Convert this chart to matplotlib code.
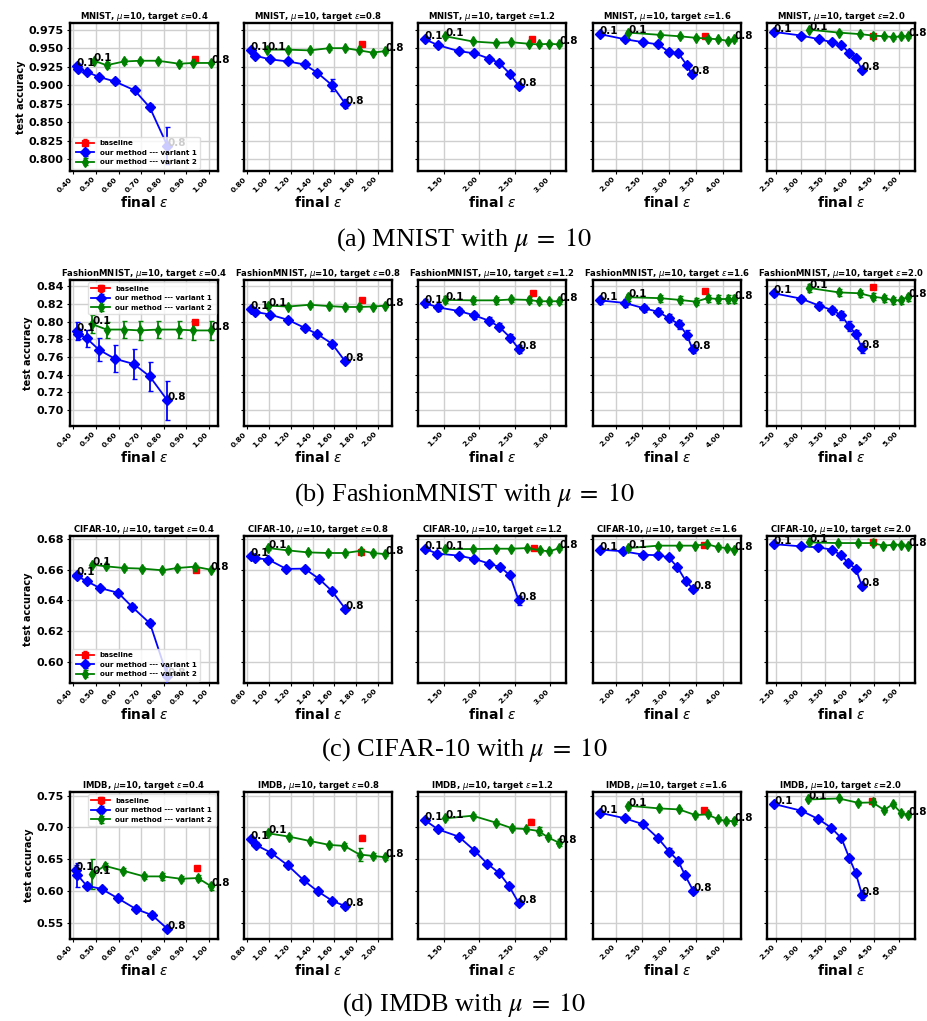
import matplotlib
matplotlib.use('Agg')
import matplotlib.pyplot as plt
from matplotlib.ticker import MultipleLocator, FormatStrFormatter

# ---------------- data ----------------
TARGETS = ['0.4', '0.8', '1.2', '1.6', '2.0']
DATASETS = ['MNIST', 'FashionMNIST', 'CIFAR-10', 'IMDB']
CAPTIONS = [r'(a) MNIST with $\mu\;=\;10$', r'(b) FashionMNIST with $\mu\;=\;10$',
            r'(c) CIFAR-10 with $\mu\;=\;10$', r'(d) IMDB with $\mu\;=\;10$']
SERIES_LABELS = ['baseline', 'our method --- variant 1', 'our method --- variant 2']

# MNIST
MNIST_V1_EPS = [[0.415, 0.422, 0.459, 0.514, 0.584, 0.671, 0.738, 0.816],
                [0.832, 0.869, 1.006, 1.174, 1.326, 1.442, 1.579, 1.700],
                [1.230, 1.421, 1.710, 1.933, 2.138, 2.283, 2.437, 2.558],
                [1.700, 2.175, 2.519, 2.800, 2.990, 3.175, 3.331, 3.425],
                [2.453, 3.017, 3.380, 3.640, 3.830, 3.985, 4.120, 4.247]]
MNIST_V1_ACC = [[0.926, 0.922, 0.918, 0.911, 0.905, 0.893, 0.870, 0.818],
                [0.947, 0.940, 0.935, 0.932, 0.928, 0.917, 0.900, 0.875],
                [0.962, 0.954, 0.946, 0.943, 0.936, 0.930, 0.915, 0.899],
                [0.969, 0.962, 0.958, 0.955, 0.945, 0.943, 0.927, 0.915],
                [0.972, 0.967, 0.962, 0.958, 0.954, 0.944, 0.937, 0.921]]
MNIST_V1_ERR = [[0.004, 0.004, 0.003, 0.002, 0.003, 0.003, 0.004, 0.025],
                [0.002, 0.002, 0.002, 0.002, 0.004, 0.002, 0.008, 0.006],
                [0.002, 0.002, 0.002, 0.002, 0.002, 0.002, 0.002, 0.003],
                [0.002, 0.002, 0.002, 0.002, 0.002, 0.002, 0.002, 0.002],
                [0.002, 0.002, 0.002, 0.002, 0.002, 0.002, 0.002, 0.002]]
MNIST_V2_EPS = [[0.490, 0.547, 0.624, 0.695, 0.774, 0.867, 0.931, 1.010],
                [0.985, 1.174, 1.372, 1.555, 1.700, 1.829, 1.951, 2.067],
                [1.523, 1.910, 2.236, 2.455, 2.698, 2.842, 2.990, 3.131],
                [2.238, 2.825, 3.200, 3.500, 3.719, 3.919, 4.094, 4.219],
                [3.172, 3.777, 4.200, 4.480, 4.700, 4.886, 5.034, 5.188]]
MNIST_V2_ACC = [[0.933, 0.927, 0.932, 0.933, 0.933, 0.929, 0.930, 0.930],
                [0.948, 0.948, 0.947, 0.950, 0.950, 0.947, 0.944, 0.946],
                [0.966, 0.959, 0.957, 0.958, 0.956, 0.955, 0.956, 0.955],
                [0.971, 0.968, 0.966, 0.964, 0.963, 0.962, 0.960, 0.962],
                [0.975, 0.971, 0.969, 0.967, 0.966, 0.965, 0.966, 0.966]]
MNIST_V2_ERR = [[0.002, 0.004, 0.003, 0.002, 0.002, 0.003, 0.002, 0.002],
                [0.002, 0.002, 0.002, 0.002, 0.002, 0.002, 0.002, 0.002],
                [0.002, 0.002, 0.002, 0.002, 0.002, 0.002, 0.002, 0.002],
                [0.002, 0.002, 0.002, 0.002, 0.002, 0.002, 0.002, 0.002],
                [0.002, 0.002, 0.002, 0.002, 0.002, 0.002, 0.002, 0.002]]
MNIST_BASE_EPS = [0.938, 1.857, 2.749, 3.669, 4.476]
MNIST_BASE_ACC = [0.935, 0.955, 0.962, 0.967, 0.967]
MNIST_BASE_ERR = [0.002, 0.002, 0.002, 0.002, 0.002]

# FashionMNIST
FASHION_V1_EPS = [[0.415, 0.422, 0.459, 0.514, 0.584, 0.668, 0.738, 0.816],
                  [0.832, 0.872, 1.006, 1.174, 1.326, 1.442, 1.579, 1.700],
                  [1.230, 1.421, 1.710, 1.933, 2.138, 2.283, 2.437, 2.558],
                  [1.700, 2.175, 2.531, 2.800, 2.990, 3.188, 3.331, 3.438],
                  [2.453, 3.004, 3.380, 3.640, 3.830, 3.985, 4.120, 4.247]]
FASHION_V1_ACC = [[0.789, 0.786, 0.781, 0.768, 0.758, 0.752, 0.738, 0.711],
                  [0.8145, 0.811, 0.808, 0.802, 0.793, 0.786, 0.775, 0.755],
                  [0.821, 0.816, 0.812, 0.807, 0.801, 0.794, 0.782, 0.769],
                  [0.824, 0.821, 0.815, 0.811, 0.804, 0.797, 0.785, 0.769],
                  [0.832, 0.826, 0.818, 0.813, 0.807, 0.795, 0.786, 0.770]]
FASHION_V1_ERR = [[0.010, 0.006, 0.010, 0.013, 0.015, 0.017, 0.016, 0.022],
                  [0.002, 0.002, 0.002, 0.002, 0.002, 0.002, 0.002, 0.002],
                  [0.004, 0.004, 0.003, 0.004, 0.004, 0.004, 0.004, 0.004],
                  [0.004, 0.004, 0.004, 0.004, 0.005, 0.005, 0.005, 0.005],
                  [0.003, 0.003, 0.004, 0.004, 0.005, 0.006, 0.005, 0.006]]
FASHION_V2_EPS = [[0.484, 0.547, 0.624, 0.695, 0.774, 0.867, 0.931, 1.010],
                  [0.994, 1.174, 1.372, 1.555, 1.700, 1.829, 1.951, 2.067],
                  [1.523, 1.910, 2.236, 2.455, 2.698, 2.842, 2.990, 3.131],
                  [2.238, 2.825, 3.200, 3.500, 3.719, 3.919, 4.094, 4.219],
                  [3.172, 3.777, 4.200, 4.480, 4.700, 4.886, 5.034, 5.188]]
FASHION_V2_ACC = [[0.797, 0.791, 0.791, 0.790, 0.791, 0.791, 0.790, 0.790],
                  [0.818, 0.817, 0.819, 0.8175, 0.8165, 0.8165, 0.817, 0.818],
                  [0.8245, 0.824, 0.824, 0.825, 0.8245, 0.823, 0.823, 0.823],
                  [0.8275, 0.8265, 0.8245, 0.8225, 0.8265, 0.8255, 0.8255, 0.8255],
                  [0.838, 0.833, 0.832, 0.828, 0.8265, 0.824, 0.824, 0.8275]]
FASHION_V2_ERR = [[0.010, 0.009, 0.010, 0.011, 0.010, 0.010, 0.011, 0.011],
                  [0.002, 0.002, 0.002, 0.002, 0.002, 0.002, 0.002, 0.002],
                  [0.004, 0.004, 0.004, 0.003, 0.003, 0.003, 0.003, 0.003],
                  [0.004, 0.004, 0.004, 0.004, 0.004, 0.004, 0.004, 0.004],
                  [0.004, 0.004, 0.004, 0.004, 0.004, 0.004, 0.004, 0.004]]
FASHION_BASE_EPS = [0.938, 1.857, 2.758, 3.675, 4.480]
FASHION_BASE_ACC = [0.800, 0.8245, 0.832, 0.835, 0.8395]
FASHION_BASE_ERR = [0.002, 0.002, 0.002, 0.002, 0.002]

# CIFAR-10
CIFAR_V1_EPS = [[0.415, 0.418, 0.459, 0.516, 0.598, 0.661, 0.739, 0.816],
                [0.832, 0.872, 0.994, 1.159, 1.326, 1.457, 1.579, 1.700],
                [1.230, 1.407, 1.710, 1.933, 2.138, 2.300, 2.432, 2.558],
                [1.700, 2.144, 2.513, 2.794, 2.990, 3.156, 3.313, 3.450],
                [2.453, 3.017, 3.360, 3.629, 3.830, 3.965, 4.120, 4.247]]
CIFAR_V1_ACC = [[0.6564, 0.6557, 0.6525, 0.6481, 0.6449, 0.6356, 0.6249, 0.5905],
                [0.6687, 0.6676, 0.6666, 0.6605, 0.6607, 0.6542, 0.6460, 0.6345],
                [0.6737, 0.6705, 0.6692, 0.6670, 0.6640, 0.6616, 0.6564, 0.6399],
                [0.6731, 0.6720, 0.6698, 0.6694, 0.6681, 0.6616, 0.6525, 0.6475],
                [0.6767, 0.6752, 0.6746, 0.6731, 0.6694, 0.6644, 0.6607, 0.6492]]
CIFAR_V1_ERR = [[0.001, 0.001, 0.001, 0.001, 0.001, 0.002, 0.002, 0.006],
                [0.001, 0.001, 0.001, 0.001, 0.001, 0.001, 0.001, 0.001],
                [0.001, 0.001, 0.001, 0.001, 0.001, 0.001, 0.001, 0.003],
                [0.001, 0.001, 0.001, 0.001, 0.001, 0.001, 0.001, 0.001],
                [0.001, 0.001, 0.001, 0.001, 0.001, 0.001, 0.001, 0.001]]
CIFAR_V2_EPS = [[0.484, 0.543, 0.624, 0.705, 0.794, 0.860, 0.937, 1.007],
                [0.994, 1.174, 1.357, 1.540, 1.700, 1.848, 1.951, 2.067],
                [1.523, 1.910, 2.236, 2.455, 2.679, 2.865, 2.990, 3.131],
                [2.238, 2.794, 3.188, 3.488, 3.706, 3.906, 4.075, 4.220],
                [3.172, 3.763, 4.167, 4.462, 4.684, 4.886, 5.034, 5.188]]
CIFAR_V2_ACC = [[0.6633, 0.6622, 0.6611, 0.6607, 0.6596, 0.6611, 0.6620, 0.6600],
                [0.6741, 0.6726, 0.6713, 0.6709, 0.6709, 0.6724, 0.6709, 0.6702],
                [0.6735, 0.6735, 0.6737, 0.6737, 0.6741, 0.6726, 0.6720, 0.6741],
                [0.6741, 0.6757, 0.6757, 0.6757, 0.6767, 0.6748, 0.6741, 0.6731],
                [0.6778, 0.6774, 0.6774, 0.6774, 0.6757, 0.6763, 0.6763, 0.6757]]
CIFAR_V2_ERR = [[0.001, 0.001, 0.001, 0.001, 0.001, 0.001, 0.001, 0.001],
                [0.001, 0.001, 0.001, 0.001, 0.001, 0.001, 0.001, 0.001],
                [0.001, 0.001, 0.001, 0.001, 0.001, 0.001, 0.001, 0.001],
                [0.001, 0.001, 0.001, 0.001, 0.001, 0.001, 0.001, 0.001],
                [0.001, 0.001, 0.001, 0.001, 0.001, 0.001, 0.001, 0.001]]
CIFAR_BASE_EPS = [0.944, 1.848, 2.767, 3.644, 4.462]
CIFAR_BASE_ACC = [0.6596, 0.6713, 0.6741, 0.6763, 0.6778]
CIFAR_BASE_ERR = [0.001, 0.001, 0.001, 0.001, 0.001]

# IMDB
IMDB_V1_EPS = [[0.410, 0.418, 0.459, 0.525, 0.598, 0.676, 0.749, 0.816],
               [0.832, 0.878, 1.015, 1.174, 1.320, 1.448, 1.579, 1.700],
               [1.230, 1.416, 1.710, 1.933, 2.115, 2.283, 2.418, 2.558],
               [1.700, 2.175, 2.513, 2.794, 3.000, 3.169, 3.300, 3.450],
               [2.466, 3.017, 3.360, 3.620, 3.830, 3.985, 4.120, 4.247]]
IMDB_V1_ACC = [[0.633, 0.625, 0.608, 0.603, 0.588, 0.5715, 0.5615, 0.540],
               [0.6814, 0.6725, 0.6605, 0.6401, 0.6165, 0.5992, 0.5846, 0.5757],
               [0.7118, 0.6971, 0.6856, 0.6636, 0.6427, 0.6280, 0.6081, 0.5809],
               [0.7233, 0.7144, 0.7050, 0.6830, 0.6620, 0.6474, 0.6243, 0.6003],
               [0.7369, 0.7264, 0.7133, 0.6997, 0.6830, 0.6526, 0.6280, 0.5940]]
IMDB_V1_ERR = [[0.008, 0.019, 0.005, 0.003, 0.004, 0.005, 0.005, 0.004],
               [0.003, 0.004, 0.003, 0.004, 0.003, 0.003, 0.003, 0.004],
               [0.003, 0.003, 0.003, 0.004, 0.003, 0.004, 0.003, 0.004],
               [0.003, 0.003, 0.003, 0.003, 0.005, 0.004, 0.004, 0.004],
               [0.003, 0.003, 0.003, 0.003, 0.003, 0.003, 0.003, 0.008]]
IMDB_V2_EPS = [[0.484, 0.539, 0.621, 0.713, 0.794, 0.875, 0.951, 1.010],
               [0.991, 1.183, 1.372, 1.555, 1.692, 1.832, 1.951, 2.067],
               [1.523, 1.906, 2.236, 2.465, 2.656, 2.838, 2.968, 3.122],
               [2.238, 2.813, 3.188, 3.488, 3.719, 3.906, 4.063, 4.220],
               [3.159, 3.777, 4.167, 4.462, 4.700, 4.872, 5.040, 5.188]]
IMDB_V2_ACC = [[0.627, 0.6395, 0.6317, 0.6228, 0.6228, 0.6191, 0.6202, 0.6071],
               [0.6908, 0.6856, 0.6788, 0.6725, 0.6709, 0.6573, 0.6552, 0.6531],
               [0.7144, 0.7186, 0.7076, 0.6987, 0.6976, 0.6945, 0.6846, 0.6762],
               [0.7343, 0.7301, 0.7285, 0.7196, 0.7207, 0.7133, 0.7102, 0.7102],
               [0.7442, 0.7458, 0.7390, 0.7395, 0.7275, 0.7369, 0.7233, 0.7196]]
IMDB_V2_ERR = [[0.024, 0.005, 0.004, 0.004, 0.006, 0.004, 0.005, 0.006],
               [0.002, 0.003, 0.003, 0.003, 0.004, 0.010, 0.004, 0.004],
               [0.003, 0.003, 0.003, 0.003, 0.003, 0.006, 0.003, 0.006],
               [0.003, 0.003, 0.003, 0.003, 0.003, 0.003, 0.003, 0.004],
               [0.003, 0.003, 0.003, 0.003, 0.003, 0.003, 0.003, 0.003]]
IMDB_BASE_EPS = [0.945, 1.857, 2.735, 3.644, 4.449]
IMDB_BASE_ACC = [0.6359, 0.684, 0.7092, 0.7275, 0.7421]
IMDB_BASE_ERR = [0.004, 0.004, 0.004, 0.003, 0.003]

ALL_DATA = [
    (MNIST_V1_EPS, MNIST_V1_ACC, MNIST_V1_ERR, MNIST_V2_EPS, MNIST_V2_ACC, MNIST_V2_ERR,
     MNIST_BASE_EPS, MNIST_BASE_ACC, MNIST_BASE_ERR),
    (FASHION_V1_EPS, FASHION_V1_ACC, FASHION_V1_ERR, FASHION_V2_EPS, FASHION_V2_ACC, FASHION_V2_ERR,
     FASHION_BASE_EPS, FASHION_BASE_ACC, FASHION_BASE_ERR),
    (CIFAR_V1_EPS, CIFAR_V1_ACC, CIFAR_V1_ERR, CIFAR_V2_EPS, CIFAR_V2_ACC, CIFAR_V2_ERR,
     CIFAR_BASE_EPS, CIFAR_BASE_ACC, CIFAR_BASE_ERR),
    (IMDB_V1_EPS, IMDB_V1_ACC, IMDB_V1_ERR, IMDB_V2_EPS, IMDB_V2_ACC, IMDB_V2_ERR,
     IMDB_BASE_EPS, IMDB_BASE_ACC, IMDB_BASE_ERR),
]

# ---------------- layout / style ----------------
W, H = 928, 1021
COL_LEFT = [70, 244, 418, 593, 767]
AX_W = 148
ROW_TOP = [23, 280, 536, 792]
ROW_BOT = [171, 426, 683, 939]
CAPTION_Y = [240, 495, 750, 1005]
XLIMS = [(0.385, 1.040), (0.770, 2.130), (1.135, 3.226), (1.574, 4.346), (2.316, 5.325)]
XSTEP = [0.1, 0.2, 0.5, 0.5, 0.5]
YLIMS = [(0.784, 0.984), (0.682, 0.847), (0.586, 0.682), (0.524, 0.756)]
YSTEP = [0.025, 0.02, 0.02, 0.05]
YFMT = ['%.3f', '%.2f', '%.2f', '%.2f']
LEG_LOC = ['lower left', 'upper right', 'lower left', 'upper right']

plt.rcParams['font.family'] = ['DejaVu Sans']

fig = plt.figure(figsize=(W / 100, H / 100), dpi=100)

for r in range(4):
    v1e, v1a, v1s, v2e, v2a, v2s, be, ba, bs = ALL_DATA[r]
    for c in range(5):
        ax = fig.add_axes([COL_LEFT[c] / W, 1 - ROW_BOT[r] / H,
                           AX_W / W, (ROW_BOT[r] - ROW_TOP[r]) / H])
        ax.set_facecolor('white')
        ax.grid(True, color='#cfcfcf', lw=1.0, zorder=0)
        ax.set_axisbelow(True)
        for sp in ax.spines.values():
            sp.set_color('black')
            sp.set_linewidth(1.7)

        ax.errorbar([be[c]], [ba[c]], yerr=[bs[c]], color='red', marker='s', ms=4.3,
                    capsize=1.5, elinewidth=1.2, lw=1.3, label=SERIES_LABELS[0], zorder=3)
        ax.errorbar(v1e[c], v1a[c], yerr=v1s[c], color='blue', marker='D', ms=4.6,
                    capsize=1.8, elinewidth=1.3, lw=1.3, label=SERIES_LABELS[1], zorder=3)
        ax.errorbar(v2e[c], v2a[c], yerr=v2s[c], color='green', marker='d', ms=5.2,
                    capsize=1.8, elinewidth=1.3, lw=1.3, label=SERIES_LABELS[2], zorder=3)
        for ex, ac in ((v1e[c], v1a[c]), (v2e[c], v2a[c])):
            ax.annotate('0.1', (ex[0], ac[0]), fontsize=7.5, fontweight='bold', zorder=4)
            ax.annotate('0.8', (ex[-1], ac[-1]), fontsize=7.5, fontweight='bold', zorder=4)

        ax.set_xlim(*XLIMS[c])
        ax.set_ylim(*YLIMS[r])
        ax.xaxis.set_major_locator(MultipleLocator(XSTEP[c]))
        ax.xaxis.set_major_formatter(FormatStrFormatter('%.2f'))
        ax.yaxis.set_major_locator(MultipleLocator(YSTEP[r]))
        ax.yaxis.set_major_formatter(FormatStrFormatter(YFMT[r]))
        ax.tick_params(axis='x', labelsize=5.4, length=2.5, width=0.8, pad=1)
        ax.tick_params(axis='y', labelsize=8, length=2.5, width=0.8, pad=2)
        for lab in ax.get_xticklabels():
            lab.set_rotation(45)
            lab.set_ha('right')
            lab.set_fontweight('bold')
        for lab in ax.get_yticklabels():
            lab.set_fontweight('bold')
        if c > 0:
            ax.tick_params(axis='y', labelleft=False)
        ax.set_xlabel(r'final $\epsilon$', fontsize=10, fontweight='bold', labelpad=1)
        ax.set_title(DATASETS[r] + r', $\mu$=10, target $\epsilon$=' + TARGETS[c],
                     fontsize=6.1, fontweight='bold', pad=3)
        if c == 0:
            ax.set_ylabel('test accuracy', fontsize=7, fontweight='bold', labelpad=2)
            ax.legend(loc=LEG_LOC[r], prop={'size': 5.1, 'weight': 'bold'},
                      handlelength=2.6, borderpad=0.45, labelspacing=0.5,
                      borderaxespad=0.35, framealpha=0.8, edgecolor='0.85')

    fig.text(0.5, 1 - CAPTION_Y[r] / H, CAPTIONS[r], ha='center', va='center',
             fontsize=19, family='Liberation Serif', math_fontfamily='stix')

fig.savefig('out.png', dpi=100, facecolor='white')
